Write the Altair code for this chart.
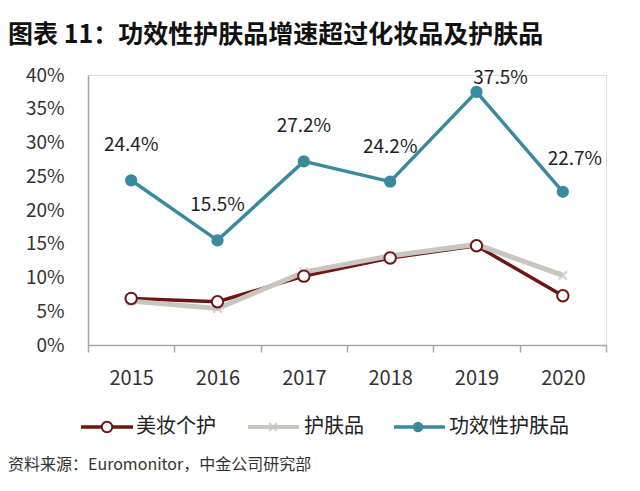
import altair as alt
import pandas as pd

years = ["2015", "2016", "2017", "2018", "2019", "2020"]
beauty = [0.069, 0.064, 0.102, 0.129, 0.147, 0.073]      # 美妆个护
skincare = [0.065, 0.054, 0.108, 0.132, 0.149, 0.103]    # 护肤品
functional = [0.244, 0.155, 0.272, 0.242, 0.375, 0.227]  # 功效性护肤品
func_labels = ["24.4%", "15.5%", "27.2%", "24.2%", "37.5%", "22.7%"]
y_ticks = [0, 0.05, 0.10, 0.15, 0.20, 0.25, 0.30, 0.35, 0.40]

title_text = "图表 11：功效性护肤品增速超过化妆品及护肤品"
source_text = "资料来源：Euromonitor，中金公司研究部"
legend_names = ["美妆个护", "护肤品", "功效性护肤品"]

RED = "#6E1616"
GRAY = "#C8C6BE"
TEAL = "#3A8A9E"
FONT = "Noto Sans CJK SC"
XPATH = "M-1,-1L1,1M-1,1L1,-1"

df = pd.DataFrame({
    "year": years,
    "beauty": beauty,
    "skincare": skincare,
    "functional": functional,
    "label": func_labels,
})

x_enc = alt.X("year:O", sort=years,
              scale=alt.Scale(paddingInner=0, paddingOuter=0),
              axis=alt.Axis(title=None, labelAngle=0, tickBand="extent", tickSize=7,
                            labelPadding=16, labelFontSize=20, labelColor="#333333",
                            labelFont=FONT, domainColor="#A6A6A6", tickColor="#A6A6A6",
                            domainWidth=1.5, tickWidth=1.5, grid=False))
y_scale = alt.Scale(domain=[0, 0.4], nice=False, zero=True)
y_axis = alt.Axis(title=None, values=y_ticks, format=".0%", grid=False, ticks=False,
                  labelOverlap=False, labelPadding=24, labelFontSize=19,
                  labelColor="#333333", labelFont=FONT,
                  domainColor="#A6A6A6", domainWidth=1.5)

def Y(field):
    return alt.Y(f"{field}:Q", scale=y_scale, axis=y_axis)

base = alt.Chart(df).encode(x=x_enc)

red_line = base.mark_line(color=RED, strokeWidth=3.5).encode(y=Y("beauty"))
gray_line = base.mark_line(color=GRAY, strokeWidth=5).encode(y=Y("skincare"))
gray_pts = base.mark_point(shape=XPATH, size=70, stroke=GRAY, strokeWidth=2.5,
                           filled=False).encode(y=Y("skincare"))
red_pts = base.mark_point(shape="circle", size=130, fill="white", fillOpacity=1,
                          stroke=RED, strokeWidth=2, filled=False).encode(y=Y("beauty"))
teal_line = base.mark_line(color=TEAL, strokeWidth=3.5).encode(y=Y("functional"))
teal_pts = base.mark_point(shape="circle", size=150, filled=True, color=TEAL,
                           opacity=1).encode(y=Y("functional"))

def label_layer(cond, dx, dy):
    return base.mark_text(fontSize=19, font=FONT, color="#222222", dx=dx, dy=dy).encode(
        y=Y("functional"), text="label:N").transform_filter(cond)

teal_txt = label_layer((alt.datum.year != "2019") & (alt.datum.year != "2020"), 0, -35)
teal_txt19 = label_layer(alt.datum.year == "2019", 24, -14)
teal_txt20 = label_layer(alt.datum.year == "2020", 12, -33)

one = pd.DataFrame({"k": [0]})
def txt(s, x, y, size, weight="normal", color="#222222", align="left"):
    return alt.Chart(one).mark_text(text=s, fontSize=size, font=FONT, fontWeight=weight,
                                    color=color, align=align, baseline="middle").encode(
        x=alt.value(x), y=alt.value(y))

def lrule(x1, x2, y, color, w):
    return alt.Chart(one).mark_rule(color=color, strokeWidth=w).encode(
        x=alt.value(x1), x2=alt.value(x2), y=alt.value(y))

LY = 352
legend = [
    lrule(-7, 45, LY, RED, 3.5),
    alt.Chart(one).mark_point(shape="circle", size=110, fill="white", fillOpacity=1,
                              stroke=RED, strokeWidth=2, filled=False).encode(
        x=alt.value(19), y=alt.value(LY)),
    txt(legend_names[0], 48, LY, 20),
    lrule(160, 211, LY, GRAY, 4),
    alt.Chart(one).mark_point(shape=XPATH, size=60, stroke=GRAY, strokeWidth=2.5,
                              filled=False).encode(x=alt.value(185), y=alt.value(LY)),
    txt(legend_names[1], 216, LY, 20),
    lrule(306, 357, LY, TEAL, 3.5),
    alt.Chart(one).mark_point(shape="circle", size=110, filled=True, color=TEAL,
                              opacity=1).encode(x=alt.value(330), y=alt.value(LY)),
    txt(legend_names[2], 361, LY, 20),
]

title = txt(title_text, -80, -40, 25, weight="bold", color="#111111")
source = txt(source_text, -80, 390, 16, color="#333333")

chart = alt.layer(red_line, gray_line, gray_pts, red_pts, teal_line, teal_pts,
                  teal_txt, teal_txt19, teal_txt20,
                  *legend, title, source).properties(
    width=518, height=270,
    padding={"left": 80, "top": 67, "right": 26, "bottom": 138},
    autosize=alt.AutoSizeParams(type="none"),
).configure_view(stroke=None).configure(background="white")

chart.save("out.html", embed_options={"renderer": "svg", "actions": False})
